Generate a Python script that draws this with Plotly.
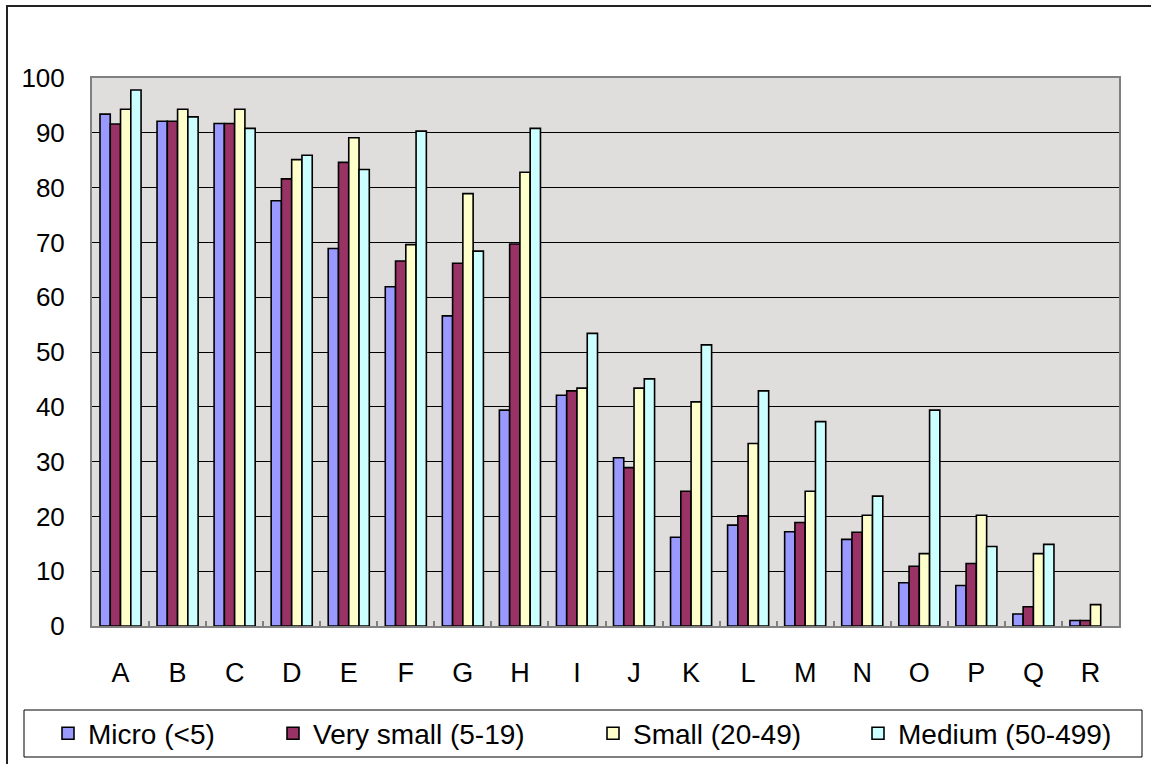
import plotly.graph_objects as go

# Sector categories
categories = ["A", "B", "C", "D", "E", "F", "G", "H", "I",
              "J", "K", "L", "M", "N", "O", "P", "Q", "R"]

# Share (%) by enterprise size class
micro = [93.4, 92.1, 91.7, 77.6, 68.9, 61.9, 56.6, 39.4, 42.1,
         30.7, 16.2, 18.4, 17.2, 15.8, 7.9, 7.4, 2.2, 1.0]
very_small = [91.6, 92.1, 91.7, 81.6, 84.6, 66.6, 66.2, 69.7, 42.9,
              28.9, 24.6, 20.1, 18.9, 17.1, 10.9, 11.4, 3.5, 1.0]
small = [94.3, 94.3, 94.3, 85.1, 89.1, 69.6, 78.9, 82.8, 43.4,
         43.4, 40.9, 33.3, 24.6, 20.2, 13.2, 20.2, 13.2, 3.9]
medium = [97.8, 92.9, 90.8, 85.9, 83.3, 90.3, 68.4, 90.8, 53.4,
          45.1, 51.3, 42.9, 37.3, 23.7, 39.4, 14.5, 14.9, None]

series_names = ["Micro (<5)", "Very small (5-19)", "Small (20-49)", "Medium (50-499)"]
series_values = [micro, very_small, small, medium]
series_colors = ["#9999FF", "#993366", "#FFFFCC", "#CCFFFF"]

y_ticks = [0, 10, 20, 30, 40, 50, 60, 70, 80, 90, 100]

W, H = 1151, 764
L, R, T, B = 92, 1119, 78, 626   # plot area edges in pixels
FONT = "Liberation Sans, Arial, sans-serif"


def px_x(p):
    return (p - L) / (R - L)


def px_y(p):
    return (B - p) / (B - T)


fig = go.Figure()
legend_ids = ["legend", "legend2", "legend3", "legend4"]
for name, vals, col, lg in zip(series_names, series_values, series_colors, legend_ids):
    fig.add_trace(go.Bar(
        x=categories, y=vals, name=name,
        marker=dict(color=col, line=dict(color="#000000", width=1.6)),
        legend=lg,
    ))

# one legend per series so the entries sit at their own positions
text_starts = [88, 313, 633, 898]
legend_layouts = {}
for lg, tx in zip(legend_ids, text_starts):
    legend_layouts[lg] = dict(
        x=px_x(tx - 40), xref="paper", xanchor="left",
        y=px_y(733.5), yref="paper", yanchor="middle",
        orientation="h", bgcolor="rgba(0,0,0,0)", borderwidth=0,
        font=dict(family=FONT, size=28, color="#000000"),
        itemwidth=30, tracegroupgap=0,
    )

fig.update_layout(
    width=W, height=H,
    margin=dict(l=L, r=W - R, t=T, b=H - B, pad=0, autoexpand=False),
    paper_bgcolor="#FFFFFF",
    plot_bgcolor="#E0DEDC",
    barmode="group", bargap=0.28, bargroupgap=0,
    showlegend=True,
    **legend_layouts,
    shapes=[
        # outer chart frame
        dict(type="rect", xref="paper", yref="paper",
             x0=px_x(7), x1=px_x(W + 20), y0=px_y(H + 20), y1=px_y(6),
             line=dict(color="#222222", width=2), fillcolor="rgba(0,0,0,0)",
             layer="below"),
        # legend box
        dict(type="rect", xref="paper", yref="paper",
             x0=px_x(24), x1=px_x(1142), y0=px_y(757), y1=px_y(710),
             line=dict(color="#000000", width=1), fillcolor="rgba(0,0,0,0)"),
    ],
)

fig.update_xaxes(
    showline=True, linecolor="#808080", linewidth=2, mirror=True,
    ticks="inside", tickson="boundaries", ticklen=5, tickcolor="#808080", tickwidth=1.5,
    tickfont=dict(family=FONT, size=27, color="#000000"),
    ticklabelstandoff=22,
    showgrid=False,
)
fig.update_yaxes(
    range=[0, 100], tickvals=y_ticks, ticktext=[str(v) for v in y_ticks],
    showline=True, linecolor="#808080", linewidth=2, mirror=True,
    showgrid=True, gridcolor="#000000", gridwidth=1,
    zeroline=False, ticks="",
    tickfont=dict(family=FONT, size=26, color="#000000"),
    ticklabelstandoff=20,
)

fig.write_html("out.html")
